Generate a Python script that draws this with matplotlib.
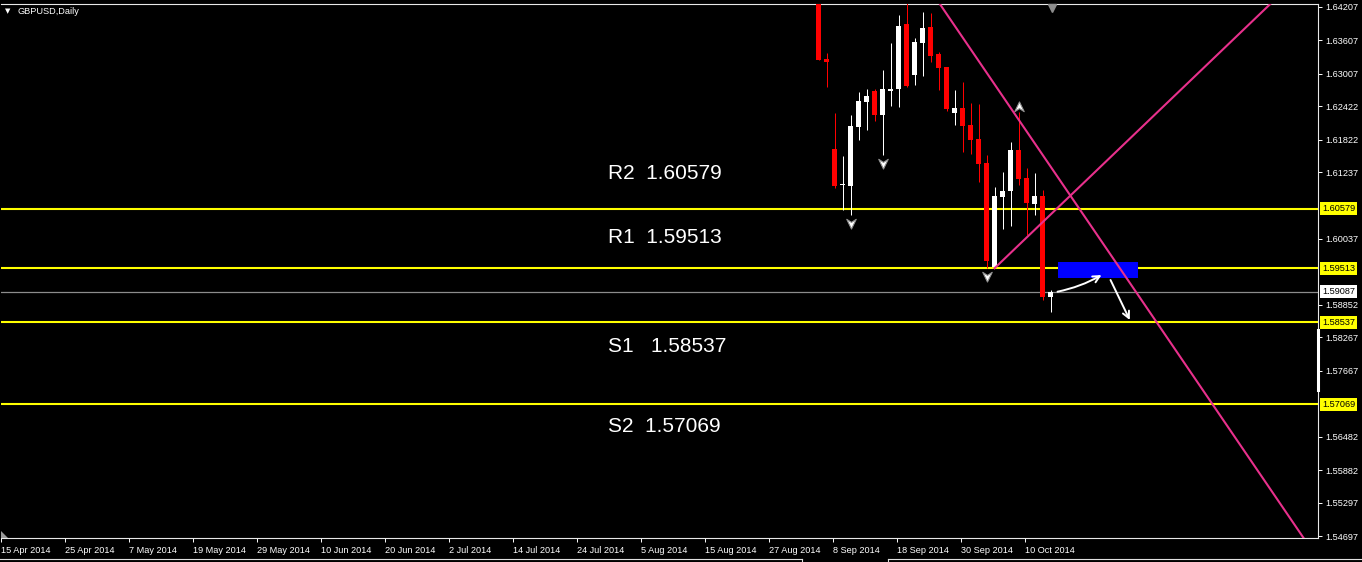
import numpy as np
import pandas as pd
import matplotlib
matplotlib.use('Agg')
import matplotlib.pyplot as plt
from matplotlib.path import Path
from matplotlib.lines import Line2D
from matplotlib.patches import Polygon, Rectangle
import matplotlib.transforms as mtransforms

plt.rcParams['font.family'] = ['Liberation Sans', 'DejaVu Sans']

# ---------------- data ----------------
symbol_title = "GBPUSD,Daily"
dates = pd.bdate_range('2014-04-15', '2014-10-15')      # trading days on the time axis
candle_start = '2014-09-04'                             # first candle inside the price window

opens  = [1.64500, 1.63272, 1.61654, 1.61002, 1.60995, 1.62055, 1.62505, 1.62702, 1.62266, 1.62702,
          1.62733, 1.63901, 1.62985, 1.63565, 1.63853, 1.63357, 1.63134, 1.62296, 1.62386, 1.62086,
          1.61834, 1.61397, 1.59538, 1.60797, 1.60899, 1.61636, 1.61128, 1.60666, 1.60809, 1.58988]
highs  = [1.64600, 1.63375, 1.62301, 1.61534, 1.62266, 1.62679, 1.62733, 1.62733, 1.63074, 1.63554,
          1.64063, 1.64280, 1.63655, 1.64112, 1.64094, 1.63393, 1.63134, 1.62715, 1.62864, 1.62487,
          1.62463, 1.61546, 1.60966, 1.61246, 1.61775, 1.62325, 1.61307, 1.61228, 1.60917, 1.59120]
lows   = [1.63254, 1.62774, 1.60953, 1.60558, 1.60468, 1.61816, 1.61996, 1.62163, 1.61546, 1.62427,
          1.62415, 1.62763, 1.62805, 1.62967, 1.63224, 1.62715, 1.62337, 1.62086, 1.61606, 1.61559,
          1.61066, 1.59510, 1.59510, 1.60211, 1.60270, 1.61007, 1.60108, 1.60468, 1.58940, 1.58729]
closes = [1.63254, 1.63213, 1.60995, 1.61025, 1.62068, 1.62517, 1.62607, 1.62266, 1.62728, 1.62738,
          1.63871, 1.62792, 1.63583, 1.63835, 1.63326, 1.63116, 1.62368, 1.62386, 1.62068, 1.61816,
          1.61385, 1.59641, 1.60809, 1.60905, 1.61636, 1.61115, 1.60689, 1.60809, 1.58999, 1.59087]

level_names  = ['R2', 'R1', 'S1', 'S2']
level_values = [1.60579, 1.59513, 1.58537, 1.57069]
level_texts  = ['R2  1.60579', 'R1  1.59513', 'S1   1.58537', 'S2  1.57069']
bid_price = 1.59087

price_ticks = [1.64207, 1.63607, 1.63007, 1.62422, 1.61822, 1.61237, 1.60037,
               1.58852, 1.58267, 1.57667, 1.56482, 1.55882, 1.55297, 1.54697]

fractal_down_dates = ['2014-09-10', '2014-09-16', '2014-10-03']
fractal_up_dates   = ['2014-10-09']

# trendlines: (bar index, price) anchor pairs
trend1_x, trend1_p = [120, 150], [1.63662, 1.57329]     # falling line
trend2_x, trend2_p = [124, 140], [1.59510, 1.61715]     # rising ray from the 3 Oct low

# blue target zone
zone_x = [131.875, 141.875]
zone_p = [1.59341, 1.59628]

# hand-drawn arrows: (x0, p0, x1, p1)
arrow_up   = [131.875, 1.59089, 137.375, 1.59389]
arrow_down = [138.5, 1.59299, 140.91, 1.58580]

# ---------------- figure ----------------
W, H = 1362, 562
fig = plt.figure(figsize=(W / 100, H / 100), dpi=100, facecolor='black')
ax_l, ax_r, ax_t, ax_b = 1, 1318, 4, 538
ax = fig.add_axes([ax_l / W, (H - ax_b) / H, (ax_r - ax_l) / W, (ax_b - ax_t) / H])
ax.set_facecolor('black')

xpos = np.arange(len(dates))
first = dates.get_loc(pd.Timestamp(candle_start))
cx = xpos[first:first + len(opens)]

x0 = -0.1875
ax.set_xlim(x0, x0 + (ax_r - ax_l) / 8.0)
ylo, yhi = 1.546612, 1.642609
ax.set_ylim(ylo, yhi)
one_px = (yhi - ylo) / (ax_b - ax_t)

# levels
for v in level_values:
    ax.axhline(v, color='#FFFF00', lw=1.5, zorder=1)
ax.axhline(bid_price, color='#8C8C8C', lw=0.9, zorder=1)

# candles
o = np.array(opens); c = np.array(closes); hi = np.array(highs); lo = np.array(lows)
cols = np.where(c >= o, '#FFFFFF', '#FF0000')
ax.vlines(cx, lo, hi, colors=cols, lw=0.72, zorder=3)
ax.bar(cx, np.maximum(np.abs(c - o), one_px), bottom=np.minimum(o, c), width=0.625,
       color=cols, lw=0, zorder=4)

# fractal arrows
arrow_path = Path([(0, -1), (-0.85, 0.75), (0, 0.2), (0.85, 0.75), (0, -1)],
                  [Path.MOVETO, Path.LINETO, Path.LINETO, Path.LINETO, Path.CLOSEPOLY])
up_path = Path(arrow_path.vertices * np.array([1, -1]), arrow_path.codes)
down_idx = [dates.get_loc(pd.Timestamp(d)) for d in fractal_down_dates]
up_idx = [dates.get_loc(pd.Timestamp(d)) for d in fractal_up_dates]
off_dn = ax.transData + mtransforms.ScaledTranslation(0, -0.08, fig.dpi_scale_trans)
off_up = ax.transData + mtransforms.ScaledTranslation(0, 0.05, fig.dpi_scale_trans)
ax.plot(down_idx, [lo[i - first] for i in down_idx], ls='none', marker=arrow_path,
        ms=8, mfc='white', mec='#909090', mew=0.8, transform=off_dn, zorder=5)
ax.plot(up_idx, [hi[i - first] for i in up_idx], ls='none', marker=up_path,
        ms=8, mfc='white', mec='#909090', mew=0.8, transform=off_up, zorder=5)

# trendlines
pink = '#E8308C'
ax.axline((trend1_x[0], trend1_p[0]), (trend1_x[1], trend1_p[1]), color=pink, lw=1.5, zorder=6)
slope2 = (trend2_p[1] - trend2_p[0]) / (trend2_x[1] - trend2_x[0])
x_far = 200
ax.plot([trend2_x[0], x_far], [trend2_p[0], trend2_p[0] + slope2 * (x_far - trend2_x[0])],
        color=pink, lw=1.5, zorder=6)

# blue zone
ax.add_patch(Rectangle((zone_x[0], zone_p[0]), zone_x[1] - zone_x[0], zone_p[1] - zone_p[0],
                       facecolor='#0000FF', edgecolor='none', zorder=5))

# arrows
for a, rad in ((arrow_up, 0.08), (arrow_down, 0.0)):
    ax.annotate('', xy=(a[2], a[3]), xytext=(a[0], a[1]),
                arrowprops=dict(arrowstyle='->', color='white', lw=1.4, mutation_scale=12,
                                shrinkA=0, shrinkB=0, connectionstyle=f'arc3,rad={rad}'),
                zorder=7)

# big level texts
text_offsets_px = [35, 31, -24, -22]
blend = mtransforms.blended_transform_factory(ax.transAxes, ax.transData)
for t, v, off in zip(level_texts, level_values, text_offsets_px):
    tr = blend + mtransforms.ScaledTranslation(0, off / 100, fig.dpi_scale_trans)
    ax.text(0.4609, v, t, transform=tr, color='white', fontsize=15,
            ha='left', va='center', zorder=8)

# axes styling
ax.spines['left'].set_visible(False)
for side in ['right', 'top', 'bottom']:
    ax.spines[side].set_color('#E8E8E8')
    ax.spines[side].set_linewidth(0.8)

ax.yaxis.tick_right()
ax.set_yticks(price_ticks)
ax.set_yticklabels([f"{v:.5f}" for v in price_ticks])
ax.tick_params(axis='y', colors='white', length=3, width=0.7, pad=2.2, labelsize=6.6)

tick_idx = xpos[::8]
ax.set_xticks(tick_idx - 0.21)
ax.set_xticklabels([f"{d.day} {d:%b %Y}" for d in dates[::8]], ha='left')
ax.tick_params(axis='x', colors='white', length=3, width=0.7, pad=3, labelsize=6.6)

# highlighted price labels on the scale
ylab = ax.get_yaxis_transform() + mtransforms.ScaledTranslation(0.04, 0, fig.dpi_scale_trans)
for v in level_values:
    ax.text(1.0, v, f"{v:.5f}", transform=ylab, ha='left', va='center', fontsize=6.6,
            color='black', clip_on=False, zorder=9,
            bbox=dict(boxstyle='square,pad=0.22', fc='#FFFF00', ec='none'))
ax.text(1.0, bid_price, f"{bid_price:.5f}", transform=ylab, ha='left', va='center', fontsize=6.6,
        color='black', clip_on=False, zorder=9,
        bbox=dict(boxstyle='square,pad=0.22', fc='white', ec='none'))

# small white segment on the price scale border
seg = [1.58400, 1.57322]
ax.plot([1.0, 1.0], seg, transform=ax.get_yaxis_transform(), color='white', lw=2.2,
        clip_on=False, zorder=9)

# chart shift marker (top) and scroll marker (bottom-left)
ax.plot([0.798], [0.993], transform=ax.transAxes, marker='v', ms=6, color='#8C8C8C',
        clip_on=False, zorder=9)
ax.add_patch(Polygon([(0, 0), (7 / 1317, 0), (0, 7 / 534)], closed=True, transform=ax.transAxes,
                     facecolor='#9A9A9A', edgecolor='none', zorder=9))

# title
fig.text(5 / W, 1 - 11 / H, '\u25BC', color='white', fontsize=5, va='center', ha='left',
         family=['DejaVu Sans'])
fig.text(17 / W, 1 - 11 / H, symbol_title, color='white', fontsize=6.6, va='center', ha='left')

# window bottom border
def fline(x0_, y0_, x1_, y1_):
    fig.add_artist(Line2D([x0_ / W, x1_ / W], [1 - y0_ / H, 1 - y1_ / H], transform=fig.transFigure,
                          color='#E0E0E0', lw=0.8))
fline(0, 559, 802, 559)
fline(802, 559, 802, 562)
fline(888, 559, 1362, 559)
fline(888, 559, 888, 562)

fig.savefig('out.png', dpi=100, facecolor='black')
